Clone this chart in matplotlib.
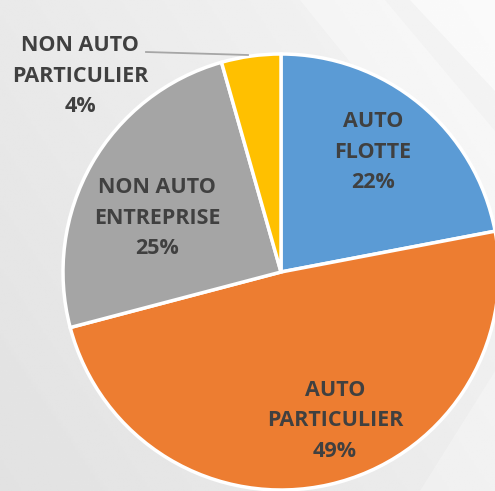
import numpy as np
import matplotlib
matplotlib.use("Agg")
import matplotlib.pyplot as plt
from matplotlib.patches import Polygon

# data
categories = ["AUTO\nFLOTTE", "AUTO\nPARTICULIER", "NON AUTO\nENTREPRISE", "NON AUTO\nPARTICULIER"]
shares = [22.0, 48.9, 24.7, 4.4]
colors_ = ["#5B9BD5", "#ED7D31", "#A5A5A5", "#FFC000"]

W, H = 495, 491
fig = plt.figure(figsize=(W / 100, H / 100), dpi=100)
ax = fig.add_axes([0, 0, 1, 1])

# background gradient (lighter towards upper right)
yy, xx = np.mgrid[0:1:200j, 0:1:200j]
grad = 0.885 + 0.075 * (0.6 * xx + 0.4 * yy)
ax.imshow(grad, extent=(0, W, 0, H), origin="lower", cmap="gray", vmin=0, vmax=1, zorder=0)
# soft diagonal light bands
for pts, a in [([(300, 491), (385, 491), (495, 360), (495, 250)], 0.35),
               ([(410, 491), (495, 491), (495, 400)], 0.55),
               ([(420, 0), (495, 0), (495, 120)], 0.25)]:
    ax.add_patch(Polygon(pts, closed=True, color="white", alpha=a, lw=0, zorder=0.5))

cx, cy, r = 281, 219, 218
wedges, _ = ax.pie(shares, colors=colors_, startangle=90, counterclock=False,
                   center=(cx, cy), radius=r, frame=True,
                   wedgeprops=dict(edgecolor="white", linewidth=2.5))
for w in wedges:
    w.set_zorder(2)
ax.set_xlim(0, W)
ax.set_ylim(0, H)
ax.set_aspect("equal")
ax.axis("off")

# label positions (pixel coords, y from top)
label_pos = [(373, 152), (335, 421), (157, 218), (80, 76)]
font = dict(family=["Open Sans", "DejaVu Sans"], fontweight="bold", fontsize=15.5, color="#404040",
            ha="center", va="center", linespacing=1.6, zorder=3)
for name, val, (lx, ly) in zip(categories, shares, label_pos):
    ax.text(lx, H - ly, f"{name}\n{round(val)}%", **font)

# leader line for the small slice
ax.plot([146, 248], [H - 52, H - 55], color="#A6A6A6", lw=1.3, zorder=3)

fig.savefig("out.png", dpi=100)
